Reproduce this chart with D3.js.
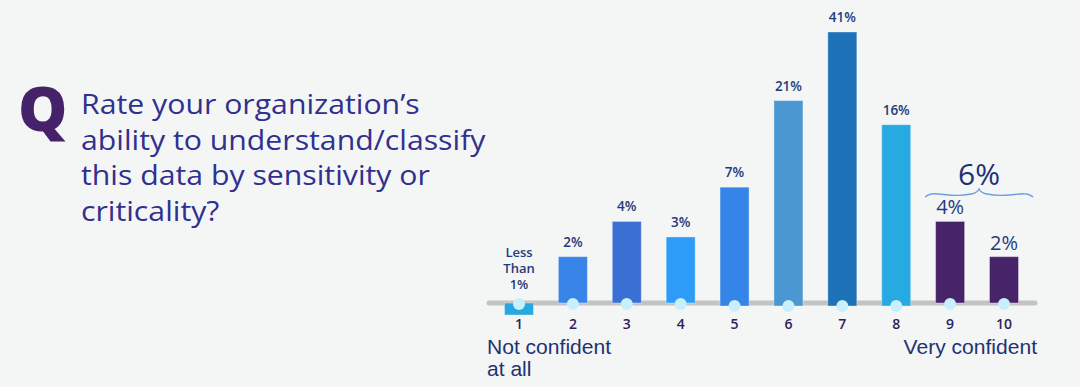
<!DOCTYPE html>
<html>
<head>
<meta charset="utf-8">
<script src="https://cdn.jsdelivr.net/npm/d3@7"></script>
<style>
  html, body { margin: 0; padding: 0; background: #f4f5f5; }
  svg { display: block; }
</style>
</head>
<body>
<div id="chart"></div>
<script>
// data
var categories = ["1", "2", "3", "4", "5", "6", "7", "8", "9", "10"];
var values = [1, 2, 4, 3, 7, 21, 41, 16, 4, 2];
var valueLabels = [["Less", "Than", "1%"], ["2%"], ["4%"], ["3%"], ["7%"], ["21%"], ["41%"], ["16%"], ["4%"], ["2%"]];
var barColors = ["#27a8e0", "#3785e8", "#3a6fd3", "#2d9cf6", "#3585e9", "#4a97d1", "#1e72b8", "#27a9e1", "#47236a", "#47236a"];
var questionLines = ["Rate your organization\u2019s", "ability to understand/classify", "this data by sensitivity or", "criticality?"];
var topGroupLabel = "6%";
var lowLabel = ["Not confident", "at all"];
var highLabel = "Very confident";

var width = 1080, height = 387;
var baseY = 303;

var svg = d3.select('#chart')
  .append('svg')
  .attr('width', width)
  .attr('height', height);

svg.append('rect')
  .attr('width', width).attr('height', height)
  .attr('fill', '#f4f5f5');

// question block
svg.append('text')
  .attr('x', 18).attr('y', 131)
  .attr('font-family', 'Open Sans')
  .attr('font-weight', 800)
  .attr('font-size', 62)
  .attr('fill', '#45226a')
  .text('Q');

svg.append('g')
  .attr('transform', 'translate(81,0) scale(1.12,1)')
  .selectAll('text')
  .data(questionLines)
  .enter()
  .append('text')
  .attr('x', 0)
  .attr('y', function (d, i) { return 114 + i * 35.7; })
  .attr('font-family', 'Open Sans')
  .attr('font-size', 27)
  .attr('fill', '#30308f')
  .text(function (d) { return d; });

// scales
var xScale = d3.scalePoint()
  .domain(categories)
  .range([519, 1004]);

// compressed power scale (the artwork is not linear), zero sits below the baseline
var yScale = d3.scalePow()
  .exponent(0.3)
  .domain([0, 41])
  .range([baseY + 106, baseY - 271]);

var barW = 29;

// baseline
svg.append('line')
  .attr('x1', 489).attr('x2', 1035)
  .attr('y1', baseY).attr('y2', baseY)
  .attr('stroke', '#c3c3c3')
  .attr('stroke-width', 5)
  .attr('stroke-linecap', 'round');

// bars
svg.selectAll('.bar')
  .data(values)
  .enter()
  .append('rect')
  .attr('class', 'bar')
  .attr('x', function (d, i) { return xScale(categories[i]) - barW / 2; })
  .attr('y', function (d, i) { return i === 0 ? baseY : yScale(d); })
  .attr('width', barW)
  .attr('height', function (d, i) { return i === 0 ? 12 : baseY - yScale(d) + (i >= 4 && i <= 7 ? 3 : 0); })
  .attr('fill', function (d, i) { return barColors[i]; })
  .attr('stroke', 'rgba(255,255,255,0.35)')
  .attr('stroke-width', 1);

// dots on baseline
svg.selectAll('.dot')
  .data(categories)
  .enter()
  .append('circle')
  .attr('class', 'dot')
  .attr('cx', function (d) { return xScale(d); })
  .attr('cy', function (d, i) { return i >= 4 && i <= 7 ? baseY + 3 : baseY + 1; })
  .attr('r', 6)
  .attr('fill', '#c8effc');

// tick labels
svg.selectAll('.tick')
  .data(categories)
  .enter()
  .append('text')
  .attr('class', 'tick')
  .attr('x', function (d) { return xScale(d); })
  .attr('y', 329)
  .attr('text-anchor', 'middle')
  .attr('font-family', 'Open Sans')
  .attr('font-weight', 600)
  .attr('font-size', 14)
  .attr('fill', '#2b2358')
  .text(function (d) { return d; });

// value labels
var labelG = svg.append('g');
values.forEach(function (v, i) {
  var cx = xScale(categories[i]);
  if (i === 0) {
    valueLabels[0].forEach(function (p, j) {
      labelG.append('text')
        .attr('x', cx).attr('y', 257 + j * 16)
        .attr('text-anchor', 'middle')
        .attr('font-family', 'Open Sans')
        .attr('font-weight', 600)
        .attr('font-size', 13)
        .attr('fill', '#253a7a')
        .text(p);
    });
    return;
  }
  var big = i >= 8;
  labelG.append('text')
    .attr('x', cx)
    .attr('y', yScale(v) - (big ? 7 : 10))
    .attr('text-anchor', 'middle')
    .attr('font-family', 'Open Sans')
    .attr('font-weight', big ? 500 : 600)
    .attr('font-size', big ? 20 : 13.5)
    .attr('fill', '#253a7a')
    .text(valueLabels[i][0]);
});

// brace over 9 and 10
var bx0 = xScale('9') - 25, bx1 = xScale('10') + 29, bm = (bx0 + bx1) / 2, by = 193;
var bracePath = d3.path();
bracePath.moveTo(bx0, by + 4);
bracePath.bezierCurveTo(bx0 + 8, by - 4, bm - 30, by + 6, bm - 8, by + 1);
bracePath.quadraticCurveTo(bm - 2, by, bm, by - 4);
bracePath.quadraticCurveTo(bm + 2, by, bm + 8, by + 1);
bracePath.bezierCurveTo(bm + 30, by + 6, bx1 - 8, by - 4, bx1, by + 4);
svg.append('path')
  .attr('d', bracePath.toString())
  .attr('fill', 'none')
  .attr('stroke', '#6d9ee3')
  .attr('stroke-width', 1.4);

svg.append('text')
  .attr('x', bm).attr('y', 185)
  .attr('text-anchor', 'middle')
  .attr('font-family', 'Open Sans')
  .attr('font-weight', 500)
  .attr('font-size', 30)
  .attr('fill', '#1f3175')
  .text(topGroupLabel);

// end labels
svg.append('g')
  .attr('transform', 'translate(487,0) scale(1.08,1)')
  .selectAll('text')
  .data(lowLabel)
  .enter()
  .append('text')
  .attr('x', 0)
  .attr('y', function (d, i) { return 354 + i * 22; })
  .attr('font-family', 'Liberation Sans')
  .attr('font-size', 19.5)
  .attr('fill', '#1e3372')
  .text(function (d) { return d; });

svg.append('text')
  .attr('transform', 'translate(1037,354) scale(1.08,1)')
  .attr('text-anchor', 'end')
  .attr('font-family', 'Liberation Sans')
  .attr('font-size', 19.5)
  .attr('fill', '#1e3372')
  .text(highLabel);
</script>
</body>
</html>
